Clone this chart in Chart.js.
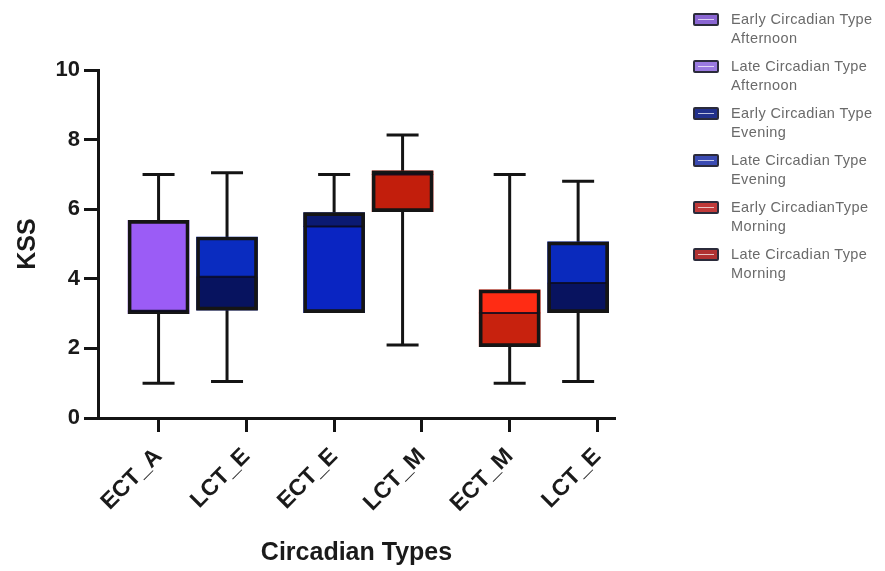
<!DOCTYPE html>
<html>
<head>
<meta charset="utf-8">
<script src="https://cdn.jsdelivr.net/npm/chart.js@4.4.1/dist/chart.umd.min.js"></script>
<style>
    html, body { margin: 0; padding: 0; background: #fff; }
    #wrap { position: relative; width: 885px; height: 571px; }
    #legend { position: absolute; left: 693px; top: 10px; font-family: Arial, "Liberation Sans", sans-serif; font-size: 14.5px; letter-spacing: 0.4px; color: #6a6a6a; white-space: nowrap; }
    .item { position: relative; height: 38px; margin-bottom: 9px; padding-left: 38px; line-height: 19px; }
    .swatch { position: absolute; left: 0; top: 3px; width: 22px; height: 9px; border: 2px solid #2b2b3b; border-radius: 2px; }
    .swatch i { position: absolute; left: 3px; right: 3px; top: 4px; height: 1px; background: rgba(255,255,255,0.7); }
</style>
</head>
<body>
<div id="wrap">
    <canvas id="kss-chart" width="885" height="571"></canvas>
    <div id="legend"></div>
</div>
<script>
// values
const categories = ['ECT_A', 'LCT_E', 'ECT_E', 'LCT_M', 'ECT_M', 'LCT_E'];
const whiskerMin = [1.0, 1.05, 3.0, 2.1, 1.0, 1.05];
const q1Values = [3.0, 3.1, 3.03, 5.93, 2.05, 3.03];
const medianValues = [3.08, 4.06, 5.5, 7.0, 3.02, 3.88];
const q3Values = [5.68, 5.2, 5.9, 7.1, 3.68, 5.06];
const whiskerMax = [7.0, 7.05, 7.0, 8.13, 7.0, 6.8];

const upperColors = ['#9b5cf6', '#0a2cc0', '#0b1a72', '#b01a0a', '#ff2c14', '#0a2abd'];
const lowerColors = ['#6b3cc4', '#07135f', '#0a25c2', '#c21e0c', '#c8220e', '#08135f'];

const legendLabels = [
    ['Early Circadian Type', 'Afternoon'],
    ['Late Circadian Type', 'Afternoon'],
    ['Early Circadian Type', 'Evening'],
    ['Late Circadian Type', 'Evening'],
    ['Early CircadianType', 'Morning'],
    ['Late Circadian Type', 'Morning']
];
const legendColors = ['#8a66d2', '#9a7ae0', '#22308c', '#3b4bb2', '#c03a3a', '#b03232'];

document.addEventListener('DOMContentLoaded', () => {
    // boxes sit in pairs, the second of each pair pulled left toward the first
    const boxPos = categories.map((c, i) => i % 2 ? i - 0.22 : i);

    const lowerData = boxPos.map((x, i) => ({ x: x, y: [q1Values[i], medianValues[i]] }));
    const upperData = boxPos.map((x, i) => ({ x: x, y: [medianValues[i], q3Values[i]] }));
    const outlineData = boxPos.map((x, i) => ({ x: x, y: [q1Values[i], q3Values[i]] }));

    const whiskers = {
        id: 'whiskers',
        beforeDatasetsDraw(chart) {
            const { ctx, scales: { x, y } } = chart;
            ctx.save();
            ctx.strokeStyle = '#141414';
            ctx.lineWidth = 3;
            boxPos.forEach((p, i) => {
                const px = x.getPixelForValue(p);
                const cap = 16;
                [[q3Values[i], whiskerMax[i]], [q1Values[i], whiskerMin[i]]].forEach(([from, to]) => {
                    if (Math.abs(from - to) < 0.1) return;
                    ctx.beginPath();
                    ctx.moveTo(px, y.getPixelForValue(from));
                    ctx.lineTo(px, y.getPixelForValue(to));
                    ctx.stroke();
                    ctx.beginPath();
                    ctx.moveTo(px - cap, y.getPixelForValue(to));
                    ctx.lineTo(px + cap, y.getPixelForValue(to));
                    ctx.stroke();
                });
            });
            ctx.restore();
        },
        afterDatasetsDraw(chart) {
            const { ctx, scales: { x, y } } = chart;
            ctx.save();
            ctx.strokeStyle = 'rgba(10,10,30,0.85)';
            ctx.lineWidth = 2;
            boxPos.forEach((p, i) => {
                const px = x.getPixelForValue(p);
                const py = y.getPixelForValue(medianValues[i]);
                ctx.beginPath();
                ctx.moveTo(px - 28, py);
                ctx.lineTo(px + 28, py);
                ctx.stroke();
            });
            ctx.restore();
        }
    };

    const boldFont = (size) => ({ family: 'Arial, "Liberation Sans", sans-serif', size: size, weight: 'bold' });

    new Chart(document.getElementById('kss-chart'), {
        type: 'bar',
        data: {
            datasets: [
                { data: lowerData, backgroundColor: lowerColors, borderWidth: 0, barThickness: 61, grouped: false, order: 2 },
                { data: upperData, backgroundColor: upperColors, borderWidth: 0, barThickness: 61, grouped: false, order: 1 },
                { data: outlineData, backgroundColor: 'rgba(0,0,0,0)', borderColor: '#151515', borderWidth: 3, borderSkipped: false, barThickness: 61, grouped: false, order: 0 }
            ]
        },
        options: {
            responsive: false,
            animation: false,
            layout: { padding: { top: 70, right: 270, bottom: 0, left: 0 } },
            plugins: {
                legend: { display: false },
                tooltip: { enabled: false }
            },
            scales: {
                x: {
                    type: 'linear',
                    min: -0.69,
                    max: 5.2,
                    offset: false,
                    afterFit: (scale) => { scale.height = 153; },
                    afterBuildTicks: (scale) => { scale.ticks = categories.map((c, i) => ({ value: i })); },
                    grid: { drawOnChartArea: false, offset: false, tickLength: 14, tickWidth: 3, tickColor: '#141414' },
                    border: { display: true, color: '#141414', width: 3 },
                    ticks: {
                        autoSkip: false,
                        minRotation: 45,
                        maxRotation: 45,
                        padding: 11,
                        color: '#1a1a1a',
                        font: boldFont(23),
                        callback: (v) => categories[v]
                    },
                    title: { display: true, text: 'Circadian Types', color: '#1a1a1a', font: boldFont(25), padding: { top: 4, bottom: 3 } }
                },
                y: {
                    min: 0,
                    max: 10,
                    afterFit: (scale) => { scale.width = 98; },
                    grid: { drawOnChartArea: false, tickLength: 14, tickWidth: 3, tickColor: '#141414' },
                    border: { display: true, color: '#141414', width: 3 },
                    ticks: { stepSize: 2, padding: 4, color: '#1a1a1a', font: boldFont(22) },
                    title: { display: true, text: 'KSS', color: '#1a1a1a', font: boldFont(25), padding: { top: 13, bottom: 0 } }
                }
            }
        },
        plugins: [whiskers]
    });

    const legend = document.getElementById('legend');
    legendLabels.forEach((lines, i) => {
        const item = document.createElement('div');
        item.className = 'item';
        const sw = document.createElement('span');
        sw.className = 'swatch';
        sw.style.background = legendColors[i];
        sw.appendChild(document.createElement('i'));
        item.appendChild(sw);
        item.appendChild(document.createTextNode(lines[0]));
        item.appendChild(document.createElement('br'));
        item.appendChild(document.createTextNode(lines[1]));
        legend.appendChild(item);
    });
});
</script>
</body>
</html>
